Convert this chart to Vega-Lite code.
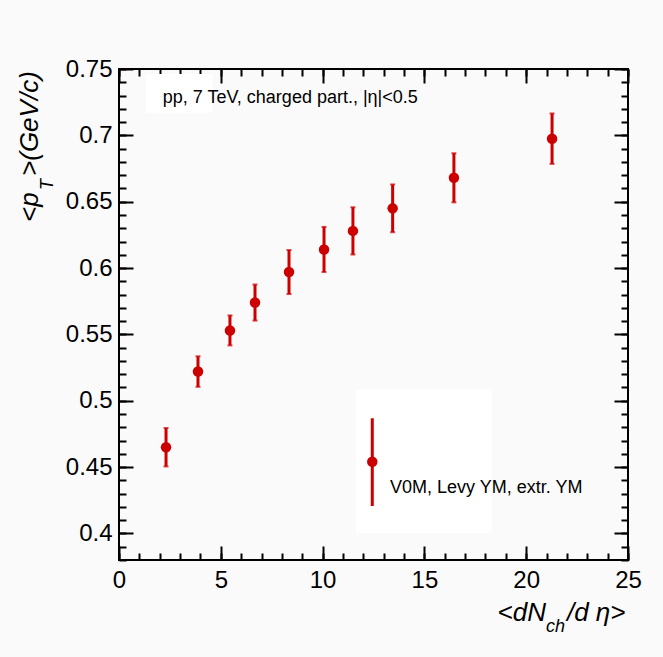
{
  "$schema": "https://vega.github.io/schema/vega-lite/v6.json",
  "width": 509,
  "height": 491,
  "autosize": {"type": "none"},
  "padding": {"left": 119, "top": 69, "right": 35, "bottom": 97},
  "background": "#fafafa",
  "config": {
    "view": {"stroke": "black", "strokeWidth": 2, "fill": null},
    "axis": {"grid": false, "domain": false, "title": null, "labelFont": "Liberation Sans", "labelFontSize": 24, "labelColor": "black", "labelFlush": false, "labelOverlap": false, "tickColor": "black", "tickWidth": 2}
  },
  "data": {
    "values": [
      {"x": 2.31, "y": 0.465, "lo": 0.4505, "hi": 0.4795},
      {"x": 3.88, "y": 0.522, "lo": 0.5105, "hi": 0.5335},
      {"x": 5.45, "y": 0.553, "lo": 0.5417, "hi": 0.5643},
      {"x": 6.68, "y": 0.574, "lo": 0.5604, "hi": 0.5876},
      {"x": 8.35, "y": 0.597, "lo": 0.5804, "hi": 0.6136},
      {"x": 10.07, "y": 0.614, "lo": 0.597, "hi": 0.631},
      {"x": 11.49, "y": 0.628, "lo": 0.6102, "hi": 0.6458},
      {"x": 13.44, "y": 0.645, "lo": 0.627, "hi": 0.663},
      {"x": 16.45, "y": 0.668, "lo": 0.6495, "hi": 0.6865},
      {"x": 21.27, "y": 0.6975, "lo": 0.6785, "hi": 0.7165}
    ]
  },
  "resolve": {"axis": {"x": "independent", "y": "independent"}},
  "layer": [
    {
      "data": {"values": [{}]},
      "mark": {"type": "rect", "fill": "white", "strokeWidth": 0},
      "encoding": {
        "x": {"datum": 1.32, "type": "quantitative", "scale": {"domain": [0, 25], "nice": false, "zero": false},
          "axis": {"orient": "bottom", "values": [0, 5, 10, 15, 20, 25], "format": "d", "ticks": false, "tickSize": 0, "labelPadding": 8}},
        "x2": {"datum": 4.6},
        "y": {"datum": 0.7462, "type": "quantitative", "scale": {"domain": [0.38, 0.75], "nice": false, "zero": false},
          "axis": {"orient": "left", "values": [0.4, 0.45, 0.5, 0.55, 0.6, 0.65, 0.7, 0.75], "format": "~g", "ticks": false, "tickSize": 0, "labelPadding": 7}},
        "y2": {"datum": 0.7171}
      }
    },
    {
      "data": {"values": [{}]},
      "mark": {"type": "rect", "fill": "white", "strokeWidth": 0},
      "encoding": {
        "x": {"datum": 11.64, "type": "quantitative", "scale": {"domain": [0, 25], "nice": false, "zero": false},
          "axis": {"orient": "bottom", "values": [0, 5, 10, 15, 20, 25], "labels": false, "ticks": true, "tickSize": -14}},
        "x2": {"datum": 18.31},
        "y": {"datum": 0.5086, "type": "quantitative", "scale": {"domain": [0.38, 0.75], "nice": false, "zero": false},
          "axis": {"orient": "left", "values": [0.4, 0.45, 0.5, 0.55, 0.6, 0.65, 0.7, 0.75], "labels": false, "ticks": true, "tickSize": -14}},
        "y2": {"datum": 0.4006}
      }
    },
    {
      "mark": {"type": "rule", "color": "#cc0000", "strokeWidth": 3},
      "encoding": {
        "x": {"field": "x", "type": "quantitative", "scale": {"domain": [0, 25], "nice": false, "zero": false},
          "axis": {"orient": "bottom", "values": [0,1,2,3,4,5,6,7,8,9,10,11,12,13,14,15,16,17,18,19,20,21,22,23,24,25], "labels": false, "ticks": true, "tickSize": -7}},
        "y": {"field": "lo", "type": "quantitative", "scale": {"domain": [0.38, 0.75], "nice": false, "zero": false},
          "axis": {"orient": "left", "values": [0.38,0.39,0.4,0.41,0.42,0.43,0.44,0.45,0.46,0.47,0.48,0.49,0.5,0.51,0.52,0.53,0.54,0.55,0.56,0.57,0.58,0.59,0.6,0.61,0.62,0.63,0.64,0.65,0.66,0.67,0.68,0.69,0.7,0.71,0.72,0.73,0.74,0.75], "labels": false, "ticks": true, "tickSize": -7}},
        "y2": {"field": "hi"}
      }
    },
    {
      "mark": {"type": "tick", "orient": "horizontal", "color": "#cc0000", "size": 5, "thickness": 2},
      "encoding": {
        "x": {"field": "x", "type": "quantitative", "scale": {"domain": [0, 25], "nice": false, "zero": false},
          "axis": {"orient": "top", "values": [0, 5, 10, 15, 20, 25], "labels": false, "ticks": true, "tickSize": -14}},
        "y": {"field": "lo", "type": "quantitative", "scale": {"domain": [0.38, 0.75], "nice": false, "zero": false},
          "axis": {"orient": "right", "values": [0.4, 0.45, 0.5, 0.55, 0.6, 0.65, 0.7, 0.75], "labels": false, "ticks": true, "tickSize": -14}}
      }
    },
    {
      "mark": {"type": "tick", "orient": "horizontal", "color": "#cc0000", "size": 5, "thickness": 2},
      "encoding": {
        "x": {"field": "x", "type": "quantitative", "scale": {"domain": [0, 25], "nice": false, "zero": false},
          "axis": {"orient": "top", "values": [0,1,2,3,4,5,6,7,8,9,10,11,12,13,14,15,16,17,18,19,20,21,22,23,24,25], "labels": false, "ticks": true, "tickSize": -7}},
        "y": {"field": "hi", "type": "quantitative", "scale": {"domain": [0.38, 0.75], "nice": false, "zero": false},
          "axis": {"orient": "right", "values": [0.38,0.39,0.4,0.41,0.42,0.43,0.44,0.45,0.46,0.47,0.48,0.49,0.5,0.51,0.52,0.53,0.54,0.55,0.56,0.57,0.58,0.59,0.6,0.61,0.62,0.63,0.64,0.65,0.66,0.67,0.68,0.69,0.7,0.71,0.72,0.73,0.74,0.75], "labels": false, "ticks": true, "tickSize": -7}}
      }
    },
    {
      "mark": {"type": "point", "shape": "circle", "filled": true, "color": "#cc0000", "opacity": 1, "size": 110},
      "encoding": {
        "x": {"field": "x", "type": "quantitative", "scale": {"domain": [0, 25], "nice": false, "zero": false}, "axis": null},
        "y": {"field": "y", "type": "quantitative", "scale": {"domain": [0.38, 0.75], "nice": false, "zero": false}, "axis": null}
      }
    },
    {
      "data": {"values": [{}]},
      "mark": {"type": "rule", "color": "#cc0000", "strokeWidth": 3},
      "encoding": {
        "x": {"datum": 12.44, "type": "quantitative", "scale": {"domain": [0, 25], "nice": false, "zero": false}, "axis": null},
        "y": {"datum": 0.4868, "type": "quantitative", "scale": {"domain": [0.38, 0.75], "nice": false, "zero": false}, "axis": null},
        "y2": {"datum": 0.4207}
      }
    },
    {
      "data": {"values": [{}]},
      "mark": {"type": "point", "shape": "circle", "filled": true, "color": "#cc0000", "opacity": 1, "size": 110},
      "encoding": {
        "x": {"datum": 12.44, "type": "quantitative", "scale": {"domain": [0, 25], "nice": false, "zero": false}, "axis": null},
        "y": {"datum": 0.4541, "type": "quantitative", "scale": {"domain": [0.38, 0.75], "nice": false, "zero": false}, "axis": null}
      }
    },
    {
      "data": {"values": [{}]},
      "mark": {"type": "text", "font": "Liberation Sans", "fontSize": 18, "color": "black", "align": "left", "baseline": "alphabetic"},
      "encoding": {
        "x": {"datum": 2.15, "type": "quantitative", "scale": {"domain": [0, 25], "nice": false, "zero": false}, "axis": null},
        "y": {"datum": 0.7244, "type": "quantitative", "scale": {"domain": [0.38, 0.75], "nice": false, "zero": false}, "axis": null},
        "text": {"value": "pp, 7 TeV, charged part., |η|<0.5"}
      }
    },
    {
      "data": {"values": [{}]},
      "mark": {"type": "text", "font": "Liberation Sans", "fontSize": 18, "color": "black", "align": "left", "baseline": "alphabetic"},
      "encoding": {
        "x": {"datum": 13.31, "type": "quantitative", "scale": {"domain": [0, 25], "nice": false, "zero": false}, "axis": null},
        "y": {"datum": 0.4303, "type": "quantitative", "scale": {"domain": [0.38, 0.75], "nice": false, "zero": false}, "axis": null},
        "text": {"value": "V0M, Levy YM, extr. YM"}
      }
    },
    {
      "data": {"values": [{}]},
      "mark": {"type": "text", "font": "Liberation Sans", "fontSize": 26, "fontStyle": "italic", "color": "black", "align": "right", "baseline": "alphabetic"},
      "encoding": {
        "x": {"datum": 20.97, "type": "quantitative", "scale": {"domain": [0, 25], "nice": false, "zero": false}, "axis": null},
        "y": {"datum": 0.3343, "type": "quantitative", "scale": {"domain": [0.38, 0.75], "nice": false, "zero": false}, "axis": null},
        "text": {"value": "<dN"}
      }
    },
    {
      "data": {"values": [{}]},
      "mark": {"type": "text", "font": "Liberation Sans", "fontSize": 18, "fontStyle": "italic", "color": "black", "align": "left", "baseline": "alphabetic"},
      "encoding": {
        "x": {"datum": 20.97, "type": "quantitative", "scale": {"domain": [0, 25], "nice": false, "zero": false}, "axis": null},
        "y": {"datum": 0.326, "type": "quantitative", "scale": {"domain": [0.38, 0.75], "nice": false, "zero": false}, "axis": null},
        "text": {"value": "ch"}
      }
    },
    {
      "data": {"values": [{}]},
      "mark": {"type": "text", "font": "Liberation Sans", "fontSize": 26, "fontStyle": "italic", "color": "black", "align": "left", "baseline": "alphabetic"},
      "encoding": {
        "x": {"datum": 22.0, "type": "quantitative", "scale": {"domain": [0, 25], "nice": false, "zero": false}, "axis": null},
        "y": {"datum": 0.3343, "type": "quantitative", "scale": {"domain": [0.38, 0.75], "nice": false, "zero": false}, "axis": null},
        "text": {"value": "/d η>"}
      }
    },
    {
      "data": {"values": [{}]},
      "mark": {"type": "text", "font": "Liberation Sans", "fontSize": 26, "fontStyle": "italic", "color": "black", "align": "left", "baseline": "alphabetic", "angle": 270},
      "encoding": {
        "x": {"datum": -4.0, "type": "quantitative", "scale": {"domain": [0, 25], "nice": false, "zero": false}, "axis": null},
        "y": {"datum": 0.6347, "type": "quantitative", "scale": {"domain": [0.38, 0.75], "nice": false, "zero": false}, "axis": null},
        "text": {"value": "<p"}
      }
    },
    {
      "data": {"values": [{}]},
      "mark": {"type": "text", "font": "Liberation Sans", "fontSize": 18, "fontStyle": "italic", "color": "black", "align": "left", "baseline": "alphabetic", "angle": 270},
      "encoding": {
        "x": {"datum": -3.24, "type": "quantitative", "scale": {"domain": [0, 25], "nice": false, "zero": false}, "axis": null},
        "y": {"datum": 0.6588, "type": "quantitative", "scale": {"domain": [0.38, 0.75], "nice": false, "zero": false}, "axis": null},
        "text": {"value": "T"}
      }
    },
    {
      "data": {"values": [{}]},
      "mark": {"type": "text", "font": "Liberation Sans", "fontSize": 26, "fontStyle": "italic", "color": "black", "align": "left", "baseline": "alphabetic", "angle": 270},
      "encoding": {
        "x": {"datum": -4.0, "type": "quantitative", "scale": {"domain": [0, 25], "nice": false, "zero": false}, "axis": null},
        "y": {"datum": 0.6694, "type": "quantitative", "scale": {"domain": [0.38, 0.75], "nice": false, "zero": false}, "axis": null},
        "text": {"value": ">(GeV/c)"}
      }
    }
  ]
}
